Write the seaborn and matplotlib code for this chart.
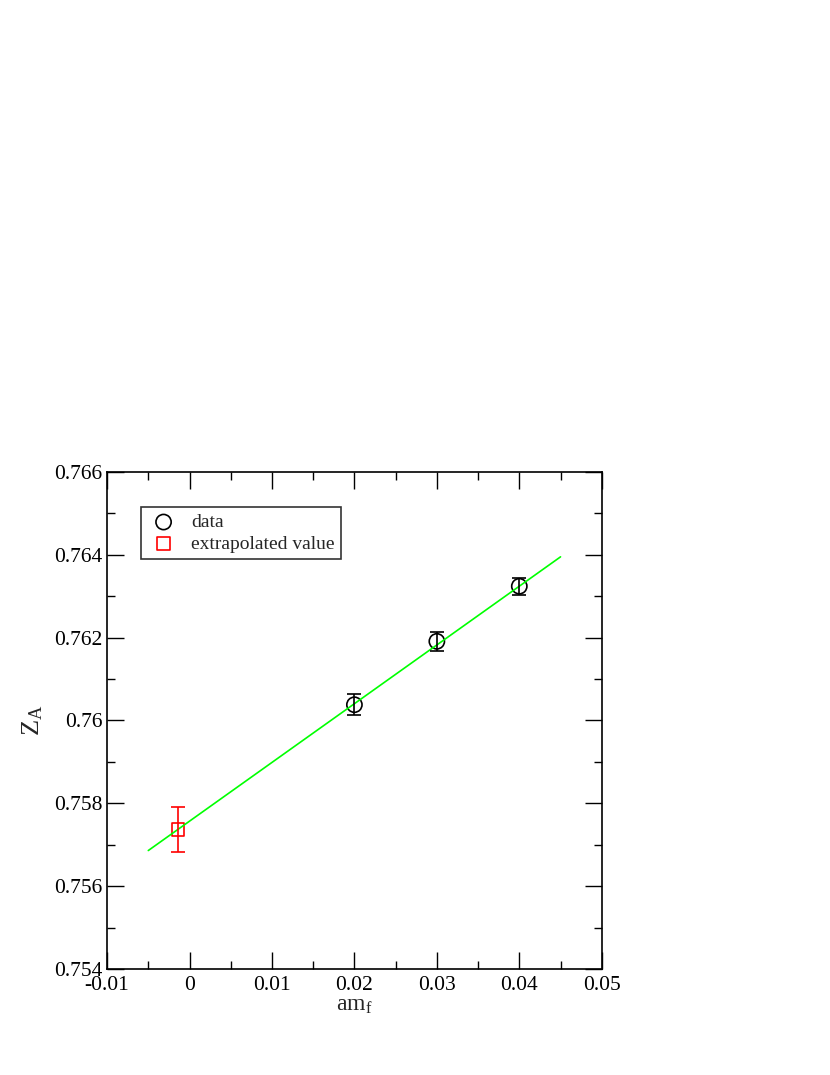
import matplotlib
matplotlib.use("Agg")
import matplotlib.pyplot as plt
import seaborn as sns
import numpy as np
import pandas as pd
from matplotlib.ticker import MultipleLocator, FuncFormatter

# data
mass = [0.02, 0.03, 0.04]
za = [0.76038, 0.76191, 0.76324]
za_err = [0.00025, 0.00023, 0.00020]

extrap_mass = [-0.0014]
extrap_za = [0.75737]
extrap_err = [0.00054]

fit_mass = [-0.005, 0.045]
fit_za = [0.75686, 0.76395]

sns.set_style("ticks")
plt.rcParams['font.family'] = ['Liberation Serif', 'DejaVu Serif']
plt.rcParams['mathtext.fontset'] = 'custom'
plt.rcParams['mathtext.rm'] = 'Liberation Serif'
plt.rcParams['mathtext.it'] = 'Liberation Serif'

fig = plt.figure(figsize=(8.3, 10.75), dpi=100)
ax = fig.add_axes([0.129, 0.0986, 0.596, 0.4624])

df_fit = pd.DataFrame({'x': fit_mass, 'y': fit_za})
sns.lineplot(data=df_fit, x='x', y='y', color='#00ff00', linewidth=1.2, ax=ax)

ax.errorbar(mass, za, yerr=za_err, fmt='none', ecolor='black',
            elinewidth=1.2, capsize=5, capthick=1.2)
ax.errorbar(extrap_mass, extrap_za, yerr=extrap_err, fmt='none', ecolor='red',
            elinewidth=1.2, capsize=5, capthick=1.2)

df_data = pd.DataFrame({'x': mass, 'y': za})
sns.scatterplot(data=df_data, x='x', y='y', marker='o', s=120,
                facecolor='none', edgecolor='black', linewidth=1.2,
                label='data', ax=ax)
df_ext = pd.DataFrame({'x': extrap_mass, 'y': extrap_za})
sns.scatterplot(data=df_ext, x='x', y='y', marker='s', s=80,
                facecolor='none', edgecolor='red', linewidth=1.2,
                label='extrapolated value', ax=ax)

ax.set_xlim(-0.01, 0.05)
ax.set_ylim(0.754, 0.766)
ax.xaxis.set_major_locator(MultipleLocator(0.01))
ax.xaxis.set_minor_locator(MultipleLocator(0.005))
ax.yaxis.set_major_locator(MultipleLocator(0.002))
ax.yaxis.set_minor_locator(MultipleLocator(0.001))
fmt = FuncFormatter(lambda v, p: '%g' % round(v, 6))
ax.xaxis.set_major_formatter(fmt)
ax.yaxis.set_major_formatter(fmt)

ax.tick_params(which='both', direction='in', top=True, right=True,
               labelsize=15.5, width=1, colors='black')
ax.tick_params(which='major', length=12)
ax.tick_params(which='minor', length=6)
ax.tick_params(axis='x', pad=5)
for s in ax.spines.values():
    s.set_linewidth(1.2)
    s.set_color('black')

ax.set_xlabel(r'am$_\mathrm{f}$', fontsize=17, labelpad=0)
ax.set_ylabel(r'Z$_\mathrm{A}$', fontsize=19, labelpad=6)

leg = ax.legend(loc='upper left', bbox_to_anchor=(0.069, 0.93), fontsize=14,
                frameon=True, fancybox=False, edgecolor='black',
                handletextpad=0.6, borderpad=0.35, labelspacing=0.2,
                handlelength=1.6, markerscale=1.0, borderaxespad=0)
leg.get_frame().set_linewidth(1.2)

fig.savefig('out.png', dpi=100)
